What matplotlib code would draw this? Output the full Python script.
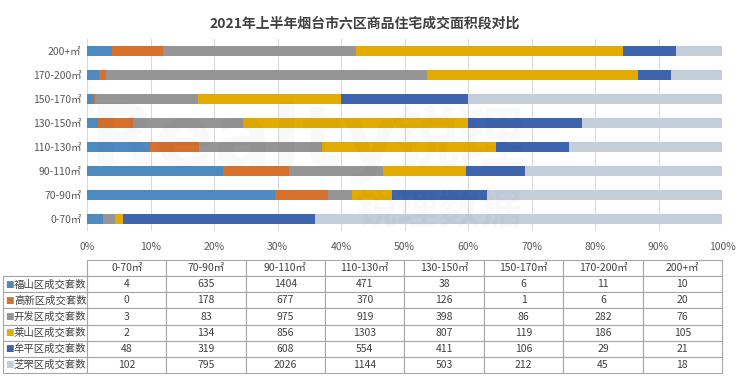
import numpy as np
import matplotlib.pyplot as plt

plt.rcParams['font.family'] = ['Noto Sans CJK SC', 'DejaVu Sans']

categories = ['0-70㎡', '70-90㎡', '90-110㎡', '110-130㎡', '130-150㎡', '150-170㎡', '170-200㎡', '200+㎡']
districts = ['福山区成交套数', '高新区成交套数', '开发区成交套数', '莱山区成交套数', '牟平区成交套数', '芝罘区成交套数']
fushan = [4, 635, 1404, 471, 38, 6, 11, 10]
gaoxin = [0, 178, 677, 370, 126, 1, 6, 20]
kaifa = [3, 83, 975, 919, 398, 86, 282, 76]
laishan = [2, 134, 856, 1303, 807, 119, 186, 105]
muping = [48, 319, 608, 554, 411, 106, 29, 21]
zhifu = [102, 795, 2026, 1144, 503, 212, 45, 18]
colors = ['#4E8AC0', '#D6702C', '#959595', '#E3AA00', '#3D64AD', '#C3CEDA']

series = np.array([fushan, gaoxin, kaifa, laishan, muping, zhifu], dtype=float)
share = series / series.sum(axis=0)

W, H = 740, 385
fig = plt.figure(figsize=(7.4, 3.85), dpi=100)
ax = fig.add_axes([87 / W, 1 - 231 / H, 635 / W, 192 / H])

# faint watermark
fig.text(0.12, 0.63, 'Realty', fontsize=62, color='#000000', alpha=0.025,
         fontweight='bold', family='DejaVu Sans', va='center', zorder=0)
fig.text(0.53, 0.63, '锐理', fontsize=48, color='#000000', alpha=0.025,
         fontweight='bold', va='center', zorder=0)
fig.text(0.48, 0.45, '锐理数据', fontsize=30, color='#000000', alpha=0.025,
         fontweight='bold', va='center', zorder=0)

y = np.arange(len(categories))
left = np.zeros(len(categories))
for vals, c in zip(share, colors):
    ax.barh(y, vals, left=left, height=0.42, color=c, zorder=3)
    left += vals

ax.set_xlim(0, 1)
ax.set_ylim(-0.5, len(categories) - 0.5)
ax.set_xticks(np.arange(0, 1.01, 0.1))
ax.set_xticklabels([f'{int(round(t * 100))}%' for t in np.arange(0, 1.01, 0.1)])
ax.set_yticks(y)
ax.set_yticklabels(categories)
ax.tick_params(length=0, labelsize=7.5, colors='#595959', pad=4)
ax.tick_params(axis='x', pad=8)
ax.grid(axis='x', color='#D9D9D9', linewidth=0.8, zorder=0)
for s in ax.spines.values():
    s.set_visible(False)
ax.patch.set_alpha(0)

fig.text(0.493, 0.94, '2021年上半年烟台市六区商品住宅成交面积段对比',
         ha='center', va='center', fontsize=10, fontweight='bold', color='#404040')

# data table
tab_ax = fig.add_axes([3 / W, 1 - 373 / H, 719 / W, 113 / H])
tab_ax.axis('off')
cell_text = [[''] + categories]
for name, row in zip(districts, series.astype(int)):
    cell_text.append([name] + [str(v) for v in row])
lab_w = 84 / 719
col_w = (1 - lab_w) / len(categories)
tbl = tab_ax.table(cellText=cell_text, colWidths=[lab_w] + [col_w] * len(categories),
                   bbox=[0, 0, 1, 1], cellLoc='center')
tbl.auto_set_font_size(False)
for (r, c), cell in tbl.get_celld().items():
    cell.set_edgecolor('#A6A6A6')
    cell.set_linewidth(0.8)
    cell.get_text().set_fontsize(7.5)
    cell.get_text().set_color('#404040')
    if c == 0:
        cell.get_text().set_ha('left')
        cell.PAD = 0.13
    if r == 0 and c == 0:
        cell.visible_edges = 'BR'

n_rows = len(districts) + 1
for i, c in enumerate(colors):
    yc = 1 - (i + 1.5) / n_rows
    tab_ax.text(0.003, yc, '■', color=c, fontsize=6.5, va='center', ha='left',
                family='DejaVu Sans')

fig.savefig('out.png', dpi=100)
